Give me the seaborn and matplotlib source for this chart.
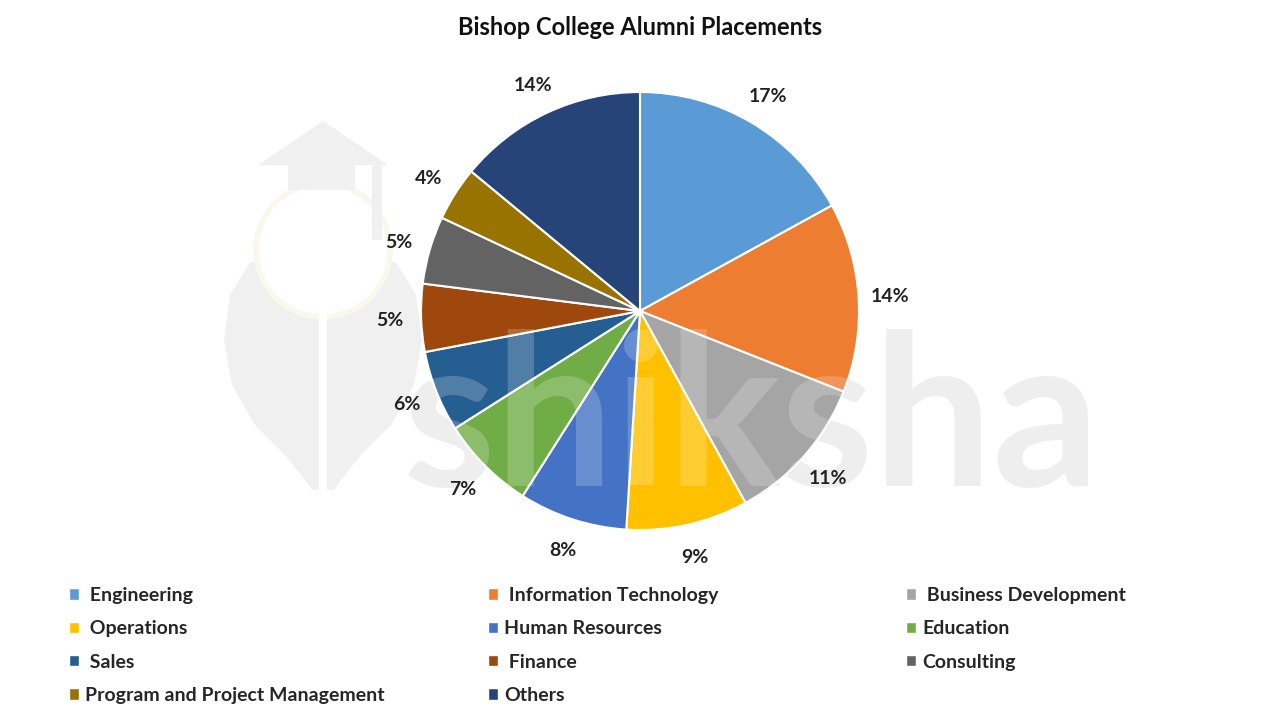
import numpy as np
import matplotlib.pyplot as plt
import seaborn as sns
from matplotlib.patches import Patch, Polygon, Ellipse

categories = ["Engineering", "Information Technology", "Business Development", "Operations",
              "Human Resources", "Education", "Sales", "Finance", "Consulting",
              "Program and Project Management", "Others"]
# legend labels as shown (some carry a leading space)
legend_labels = [" Engineering", " Information Technology", " Business Development", " Operations",
                 "Human Resources", "Education", " Sales", " Finance", "Consulting",
                 "Program and Project Management", "Others"]
shares = [17, 14, 11, 9, 8, 7, 6, 5, 5, 4, 14]
colors = ["#5B9BD5", "#ED7D31", "#A5A5A5", "#FFC000", "#4472C4", "#70AD47",
          "#255E91", "#9E480E", "#636363", "#997300", "#264478"]

sns.set_theme(style="white")
plt.rcParams['font.family'] = ['Lato', 'DejaVu Sans']
palette = sns.color_palette(colors)

fig = plt.figure(figsize=(12.8, 7.2), dpi=100)
fig.patch.set_facecolor("white")


def px(x, y):
    # pixel position (from top-left) -> figure fraction
    return (x / 1280, 1 - y / 720)


def add_poly(pts, color, z):
    fig.patches.append(Polygon([px(*p) for p in pts], closed=True, transform=fig.transFigure,
                               facecolor=color, edgecolor="none", zorder=z))


# faint logo watermark behind the chart
wm = "#f0f0f0"
add_poly([(250, 262), (230, 295), (224, 340), (232, 385), (255, 425), (285, 455), (305, 480),
          (312, 490), (334, 490), (341, 480), (361, 455), (391, 425), (414, 385), (422, 340),
          (416, 295), (396, 262)], wm, -6)
fig.patches.append(Ellipse(px(323, 250), 134 / 1280, 134 / 720, transform=fig.transFigure,
                           facecolor="white", edgecolor="#fcf7ec", linewidth=4, zorder=-5))
add_poly([(319, 300), (327, 300), (327, 490), (319, 490)], "white", -5)
add_poly([(258, 165), (323, 121), (388, 165)], wm, -4)
add_poly([(288, 165), (355, 165), (355, 190), (288, 190)], wm, -4)
add_poly([(372, 165), (382, 165), (382, 240), (372, 240)], wm, -4)

# text watermark, grey part behind the pie
fig.text(752 / 1280, 1 - 425 / 720, "shiksha", ha="center", va="center", fontsize=152,
         color="#ebebeb", fontweight="bold", zorder=-3)

# pie centred at (640, 311) px, radius ~219 px
r = 219
ax = fig.add_axes([(640 - r) / 1280, (720 - 311 - r) / 720, 2 * r / 1280, 2 * r / 720])
ax.patch.set_alpha(0)
wedges, texts = ax.pie(shares, colors=palette, startangle=90, counterclock=False,
                       wedgeprops=dict(edgecolor="white", linewidth=1.5))
ax.set_aspect("equal")
ax.set_xlim(-1, 1)
ax.set_ylim(-1, 1)
ax.axis("off")

# translucent part of the watermark over the pie
ax.text(752 / 1280, 1 - 425 / 720, "shiksha", transform=fig.transFigure, ha="center",
        va="center", fontsize=152, color="white", alpha=0.2, fontweight="bold",
        zorder=4, clip_on=False)

ang = 90.0
for v in shares:
    mid = np.deg2rad(ang - v * 3.6 / 2)
    ax.text(1.145 * np.cos(mid), 1.145 * np.sin(mid), f"{v}%", ha="center", va="center_baseline",
            fontsize=14, fontweight="bold", color="#222222", zorder=6)
    ang -= v * 3.6

fig.text(0.5, 0.962, "Bishop College Alumni Placements", ha="center", va="center",
         fontsize=17, fontweight="bold", color="#111111")

# legend, three columns filled row by row
col_x = [69 / 1280, 488 / 1280, 906 / 1280]
for c in range(3):
    idx = list(range(c, len(categories), 3))
    handles = [Patch(facecolor=palette[i]) for i in idx]
    labels = [legend_labels[i] for i in idx]
    fig.legend(handles, labels, loc="upper left", bbox_to_anchor=(col_x[c], 1 - 587 / 720),
               frameon=False, handlelength=0.52, handleheight=0.52, handletextpad=0.3,
               labelspacing=0.84, borderaxespad=0, borderpad=0,
               prop=dict(family="Lato", weight="bold", size=14))

fig.savefig("out.png", dpi=100)
